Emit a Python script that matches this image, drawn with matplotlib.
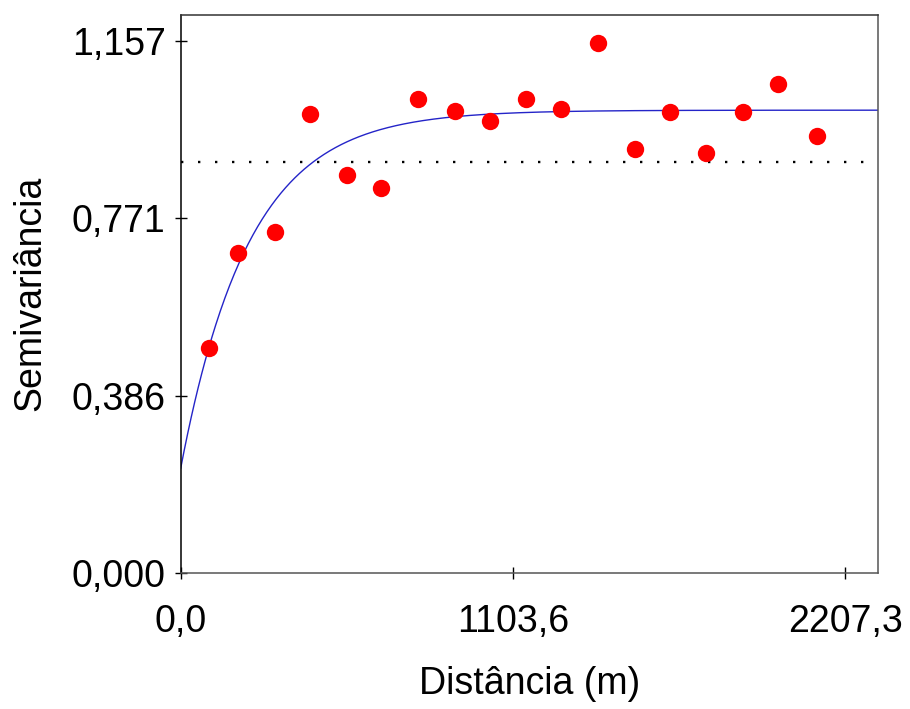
import numpy as np
import matplotlib
matplotlib.use("Agg")
import matplotlib.pyplot as plt

plt.rcParams['font.family'] = ['Liberation Sans', 'DejaVu Sans']

# Experimental semivariogram (lag distance in m, semivariance)
lag_dist = [93.2, 191.7, 313.8, 429.3, 552.5, 666.6, 787.4, 910.6, 1027.1,
            1148.5, 1263.4, 1385.5, 1508.6, 1624.1, 1745.9, 1869.1, 1983.6, 2114.3]
semivar = [0.489, 0.697, 0.742, 0.999, 0.865, 0.838, 1.032, 1.005, 0.983,
           1.032, 1.010, 1.154, 0.923, 1.004, 0.914, 1.004, 1.064, 0.950]

# Fitted exponential model parameters
nugget = 0.2275
sill = 1.007
model_range = 683.0

# Sample variance (dotted reference line)
sample_var = 0.894

x_ticks = [0.0, 1103.6, 2207.3]
x_tick_labels = ["0,0", "1103,6", "2207,3"]
y_ticks = [0.0, 0.3857, 0.7713, 1.157]
y_tick_labels = ["0,000", "0,386", "0,771", "1,157"]

fig = plt.figure(figsize=(9.10, 7.09), dpi=100)
ax = fig.add_axes([180.7 / 910, (709 - 572.7) / 709,
                   (878.3 - 180.7) / 910, (572.7 - 14.7) / 709])

xmax = x_ticks[-1] * 1.05
ymax = y_ticks[-1] * 1.05

h = np.linspace(0, xmax, 600)
gamma = nugget + (sill - nugget) * (1 - np.exp(-3 * h / model_range))

ax.axhline(sample_var, color='black', lw=1.7, linestyle=(0, (1, 6.2)), zorder=1)
ax.plot(h, gamma, color='#2424c8', lw=1.0, zorder=2)
ax.plot(lag_dist, semivar, 'o', color='#ff0000', markersize=12.5,
        markeredgewidth=0, zorder=3)

ax.set_xlim(0, xmax)
ax.set_ylim(0, ymax)
ax.set_xticks(x_ticks)
ax.set_xticklabels(x_tick_labels)
ax.set_yticks(y_ticks)
ax.set_yticklabels(y_tick_labels)

ax.tick_params(axis='both', direction='inout', length=8.6, width=1.0,
               labelsize=27, colors='black')
ax.tick_params(axis='x', pad=18)
ax.tick_params(axis='y', pad=6.5)

ax.spines['left'].set_color('black')
ax.spines['bottom'].set_color('#555555')
ax.spines['top'].set_color('#333333')
ax.spines['right'].set_color('#555555')
for s in ax.spines.values():
    s.set_linewidth(1.1)

ax.set_xlabel("Distância (m)", fontsize=27, labelpad=19)
ax.set_ylabel("Semivariância", fontsize=27, labelpad=17)

fig.savefig("out.png", dpi=100)
